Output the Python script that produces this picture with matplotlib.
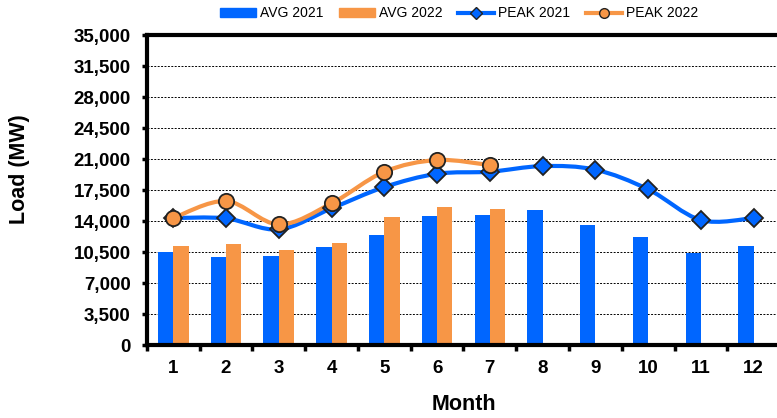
import numpy as np
import matplotlib
matplotlib.use("Agg")
import matplotlib.pyplot as plt
from matplotlib.path import Path
from matplotlib.patches import PathPatch, Patch
from matplotlib.lines import Line2D
from matplotlib.ticker import FixedLocator, FuncFormatter

plt.rcParams["font.family"] = ["Liberation Sans", "DejaVu Sans"]

months = list(range(1, 13))
avg_2021 = [10530, 9940, 10050, 11030, 12380, 14530, 14640, 15240, 13510, 12190, 10390, 11140]
avg_2022 = [11140, 11440, 10720, 11550, 14450, 15580, 15360]
peak_2021 = [14340, 14300, 13060, 15430, 17840, 19340, 19570, 20210, 19800, 17580, 14110, 14340]
peak_2022 = [14340, 16260, 13620, 16000, 19570, 20890, 20320]

BLUE = "#0066FF"
ORANGE = "#F79646"


def smooth_path(xs, ys):
    # Excel-style smoothed line: Catmull-Rom segments as cubic Bezier curves
    xs = np.asarray(xs, float); ys = np.asarray(ys, float)
    n = len(xs)
    verts = [(xs[0], ys[0])]; codes = [Path.MOVETO]
    for i in range(n - 1):
        p0 = (xs[max(i - 1, 0)], ys[max(i - 1, 0)])
        p1 = (xs[i], ys[i]); p2 = (xs[i + 1], ys[i + 1])
        p3 = (xs[min(i + 2, n - 1)], ys[min(i + 2, n - 1)])
        c1 = (p1[0] + (p2[0] - p0[0]) / 6, p1[1] + (p2[1] - p0[1]) / 6)
        c2 = (p2[0] - (p3[0] - p1[0]) / 6, p2[1] - (p3[1] - p1[1]) / 6)
        verts += [c1, c2, p2]; codes += [Path.CURVE4] * 3
    return Path(verts, codes)


fig = plt.figure(figsize=(7.77, 4.18), dpi=100)
ax = fig.add_axes([0.189, 0.1746, 0.815, 0.7414])

bw = 0.29
x21 = np.array(months) - bw / 2
x22 = np.array(months[:len(avg_2022)]) + bw / 2
ax.bar(x21, avg_2021, width=bw, color=BLUE, zorder=2)
ax.bar(x22, avg_2022, width=bw, color=ORANGE, zorder=2)

ax.add_patch(PathPatch(smooth_path(months, peak_2021), fill=False, ec=BLUE, lw=3, zorder=3))
ax.add_patch(PathPatch(smooth_path(months[:len(peak_2022)], peak_2022), fill=False, ec=ORANGE, lw=3, zorder=4))
ax.plot(months, peak_2021, ls="none", marker="D", ms=9, mfc=BLUE, mec="#222222", mew=1.3, zorder=5)
ax.plot(months[:len(peak_2022)], peak_2022, ls="none", marker="o", ms=11, mfc=ORANGE, mec="#222222", mew=1.3, zorder=6)

ax.set_xlim(0.5, 12.5)
ax.set_ylim(0, 35000)
ax.set_yticks(np.arange(0, 35001, 3500))
ax.yaxis.set_major_formatter(FuncFormatter(lambda v, p: f"{int(v):,}"))
ax.xaxis.set_major_locator(FixedLocator(np.arange(0.5, 13, 1)))
ax.xaxis.set_minor_locator(FixedLocator(months))
ax.set_xticklabels([])
ax.set_xticklabels([str(m) for m in months], minor=True)
ax.tick_params(axis="x", which="major", direction="out", length=4, width=2.5)
ax.tick_params(axis="x", which="minor", length=0, pad=11, labelsize=13.5)
ax.tick_params(axis="y", direction="out", length=3.6, width=2.5, labelsize=13.5, pad=8)
for lab in ax.get_xticklabels(minor=True) + ax.get_yticklabels():
    lab.set_fontweight("bold")

ax.grid(axis="y", color="black", ls=(0, (2, 1.5)), lw=0.7, zorder=0)
for s in ["left", "bottom", "top"]:
    ax.spines[s].set_linewidth(3)
ax.spines["right"].set_visible(False)

ax.set_ylabel("Load (MW)", fontsize=15.5, fontweight="bold")
ax.yaxis.set_label_coords(-0.185, 0.566)
ax.set_xlabel("Month", fontsize=15.5, fontweight="bold", labelpad=12)

handles = [
    Patch(color=BLUE, label="AVG 2021"),
    Patch(color=ORANGE, label="AVG 2022"),
    Line2D([], [], color=BLUE, lw=3, marker="D", ms=6, mfc=BLUE, mec="#222222", label="PEAK 2021"),
    Line2D([], [], color=ORANGE, lw=3, marker="o", ms=7, mfc=ORANGE, mec="#222222", label="PEAK 2022"),
]
fig.legend(handles=handles, loc="upper center", bbox_to_anchor=(0.591, 1.015), ncol=4, frameon=False,
           fontsize=10, handlelength=2.6, handleheight=0.6, columnspacing=1.1, handletextpad=0.3)

fig.savefig("out.png", dpi=100)
